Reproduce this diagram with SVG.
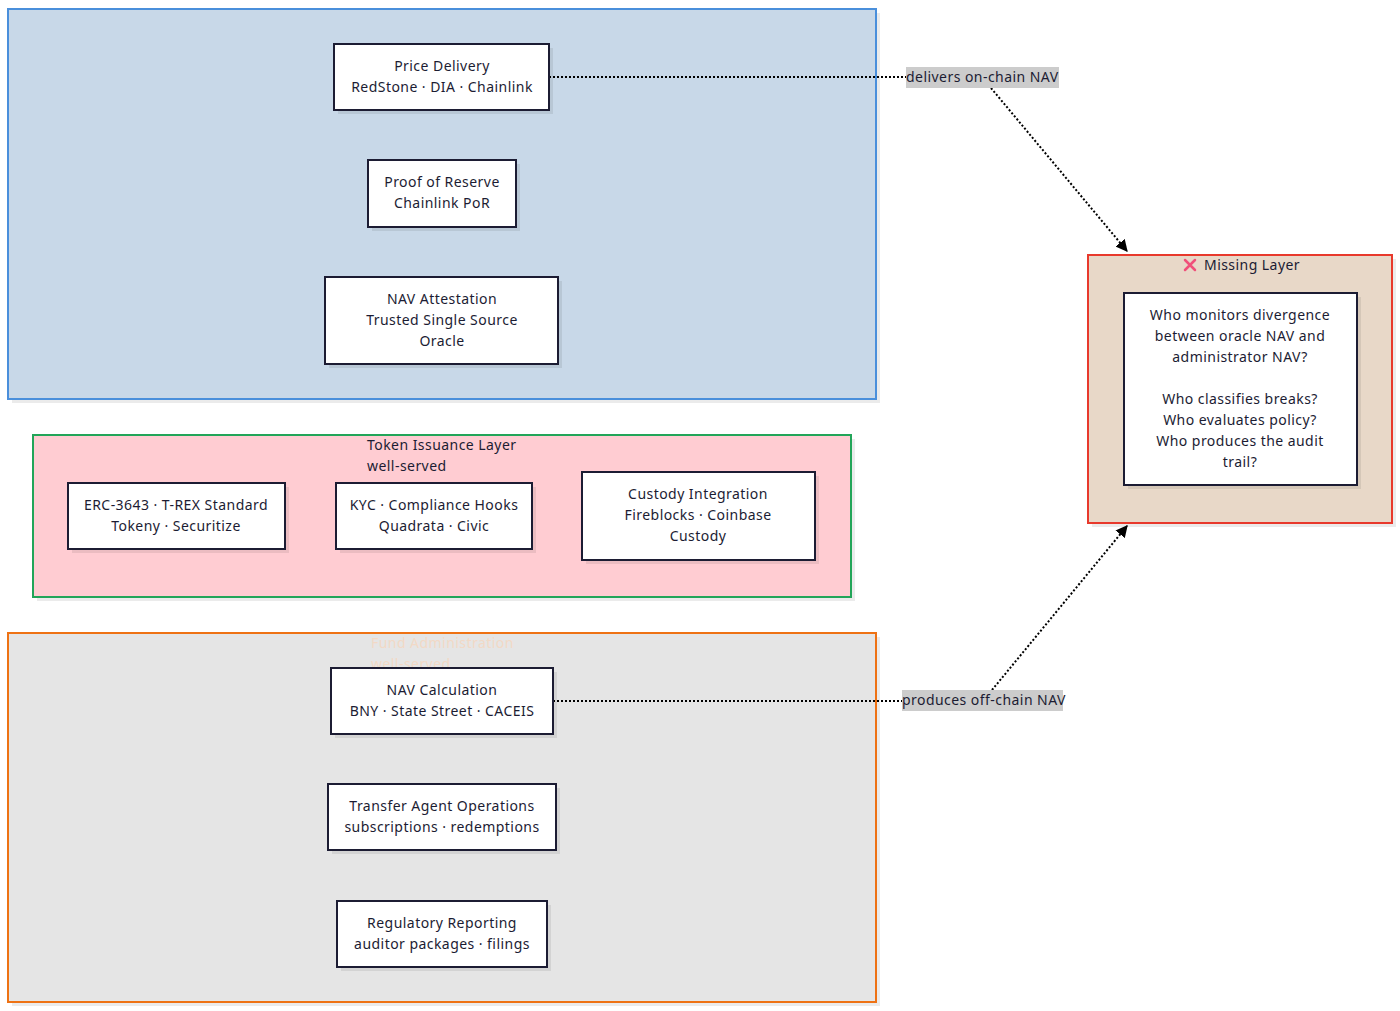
<svg xmlns="http://www.w3.org/2000/svg" width="1400" height="1011" viewBox="0 0 1400 1011">
<style>
text { font-family: "Noto Sans", "DejaVu Sans", sans-serif; font-size: 14px; fill: #1c1c33; letter-spacing: 0.45px; }
.c { text-anchor: middle; }
.node { fill: #ffffff; stroke: #1c1c33; stroke-width: 2; }
.shadow { fill: #000; opacity: 0.08; }
.edge { fill: none; stroke: #000; stroke-width: 2; stroke-dasharray: 2 2; }
.lbl { fill: #cccccc; }
</style>
<defs>
<marker id="arrow" viewBox="0 0 10 10" refX="9" refY="5" markerWidth="12" markerHeight="12" orient="auto-start-reverse" markerUnits="userSpaceOnUse">
<path d="M0,0 L10,5 L0,10 z" fill="#000"/>
</marker>
</defs>
<rect width="1400" height="1011" fill="#ffffff"/>

<g id="cluster-oracle">
<rect class="shadow" x="12" y="13" width="868" height="390"/>
<rect x="8" y="9" width="868" height="390" fill="#c8d8e8" stroke="#4a8fdb" stroke-width="2"/>
</g>
<g id="cluster-token">
<rect class="shadow" x="37" y="439" width="818" height="162"/>
<rect x="33" y="435" width="818" height="162" fill="#ffccd2" stroke="#22a559" stroke-width="2"/>
<text x="367" y="450">Token Issuance Layer</text>
<text x="367" y="471">well-served</text>
</g>
<g id="cluster-fund">
<rect class="shadow" x="12" y="637" width="868" height="369"/>
<rect x="8" y="633" width="868" height="369" fill="#e5e5e5" stroke="#ee7214" stroke-width="2"/>
<text x="371" y="648" style="fill:#f2d9c6">Fund Administration</text>
<text x="371" y="669" style="fill:#f2d9c6">well-served</text>
</g>
<g id="cluster-missing">
<rect class="shadow" x="1092" y="259" width="304" height="268"/>
<rect x="1088" y="255" width="304" height="268" fill="#e8d8c8" stroke="#e8392c" stroke-width="2"/>
<text x="1204" y="270">Missing Layer</text>
<path d="M1185,260 L1195,270 M1195,260 L1185,270" stroke="#f0507a" stroke-width="2.5" stroke-linecap="round"/>
</g>

<g id="connectors">
<path class="edge" d="M549,77 L906,77"/>
<path class="edge" d="M991,88 L1127,251" marker-end="url(#arrow)"/>
<path class="edge" d="M553,701 L902,701"/>
<path class="edge" d="M992,690 L1127,526" marker-end="url(#arrow)"/>
<rect class="lbl" x="906" y="67" width="153" height="21"/>
<text x="906" y="82">delivers on-chain NAV</text>
<rect class="lbl" x="902" y="690" width="161" height="21"/>
<text x="902" y="705">produces off-chain NAV</text>
</g>

<g id="price-delivery">
<rect class="shadow" x="338" y="48" width="215" height="66"/>
<rect class="node" x="334" y="44" width="215" height="66"/>
<text class="c" x="442" y="71">Price Delivery</text>
<text class="c" x="442" y="92">RedStone · DIA · Chainlink</text>
</g>
<g id="proof-of-reserve">
<rect class="shadow" x="372" y="164" width="148" height="67"/>
<rect class="node" x="368" y="160" width="148" height="67"/>
<text class="c" x="442" y="187">Proof of Reserve</text>
<text class="c" x="442" y="208">Chainlink PoR</text>
</g>
<g id="nav-attestation">
<rect class="shadow" x="329" y="281" width="233" height="87"/>
<rect class="node" x="325" y="277" width="233" height="87"/>
<text class="c" x="442" y="304">NAV Attestation</text>
<text class="c" x="442" y="325">Trusted Single Source</text>
<text class="c" x="442" y="346">Oracle</text>
</g>

<g id="erc3643">
<rect class="shadow" x="72" y="487" width="217" height="66"/>
<rect class="node" x="68" y="483" width="217" height="66"/>
<text class="c" x="176" y="510">ERC-3643 · T-REX Standard</text>
<text class="c" x="176" y="531">Tokeny · Securitize</text>
</g>
<g id="kyc">
<rect class="shadow" x="340" y="487" width="196" height="66"/>
<rect class="node" x="336" y="483" width="196" height="66"/>
<text class="c" x="434" y="510">KYC · Compliance Hooks</text>
<text class="c" x="434" y="531">Quadrata · Civic</text>
</g>
<g id="custody">
<rect class="shadow" x="586" y="476" width="233" height="88"/>
<rect class="node" x="582" y="472" width="233" height="88"/>
<text class="c" x="698" y="499">Custody Integration</text>
<text class="c" x="698" y="520">Fireblocks · Coinbase</text>
<text class="c" x="698" y="541">Custody</text>
</g>

<g id="nav-calculation">
<rect class="shadow" x="335" y="672" width="222" height="66"/>
<rect class="node" x="331" y="668" width="222" height="66"/>
<text class="c" x="442" y="695">NAV Calculation</text>
<text class="c" x="442" y="716">BNY · State Street · CACEIS</text>
</g>
<g id="transfer-agent">
<rect class="shadow" x="332" y="788" width="228" height="66"/>
<rect class="node" x="328" y="784" width="228" height="66"/>
<text class="c" x="442" y="811">Transfer Agent Operations</text>
<text class="c" x="442" y="832">subscriptions · redemptions</text>
</g>
<g id="regulatory">
<rect class="shadow" x="341" y="905" width="210" height="66"/>
<rect class="node" x="337" y="901" width="210" height="66"/>
<text class="c" x="442" y="928">Regulatory Reporting</text>
<text class="c" x="442" y="949">auditor packages · filings</text>
</g>

<g id="missing-questions">
<rect class="shadow" x="1128" y="297" width="233" height="192"/>
<rect class="node" x="1124" y="293" width="233" height="192"/>
<text class="c" x="1240" y="320">Who monitors divergence</text>
<text class="c" x="1240" y="341">between oracle NAV and</text>
<text class="c" x="1240" y="362">administrator NAV?</text>
<text class="c" x="1240" y="404">Who classifies breaks?</text>
<text class="c" x="1240" y="425">Who evaluates policy?</text>
<text class="c" x="1240" y="446">Who produces the audit</text>
<text class="c" x="1240" y="467">trail?</text>
</g>
</svg>
